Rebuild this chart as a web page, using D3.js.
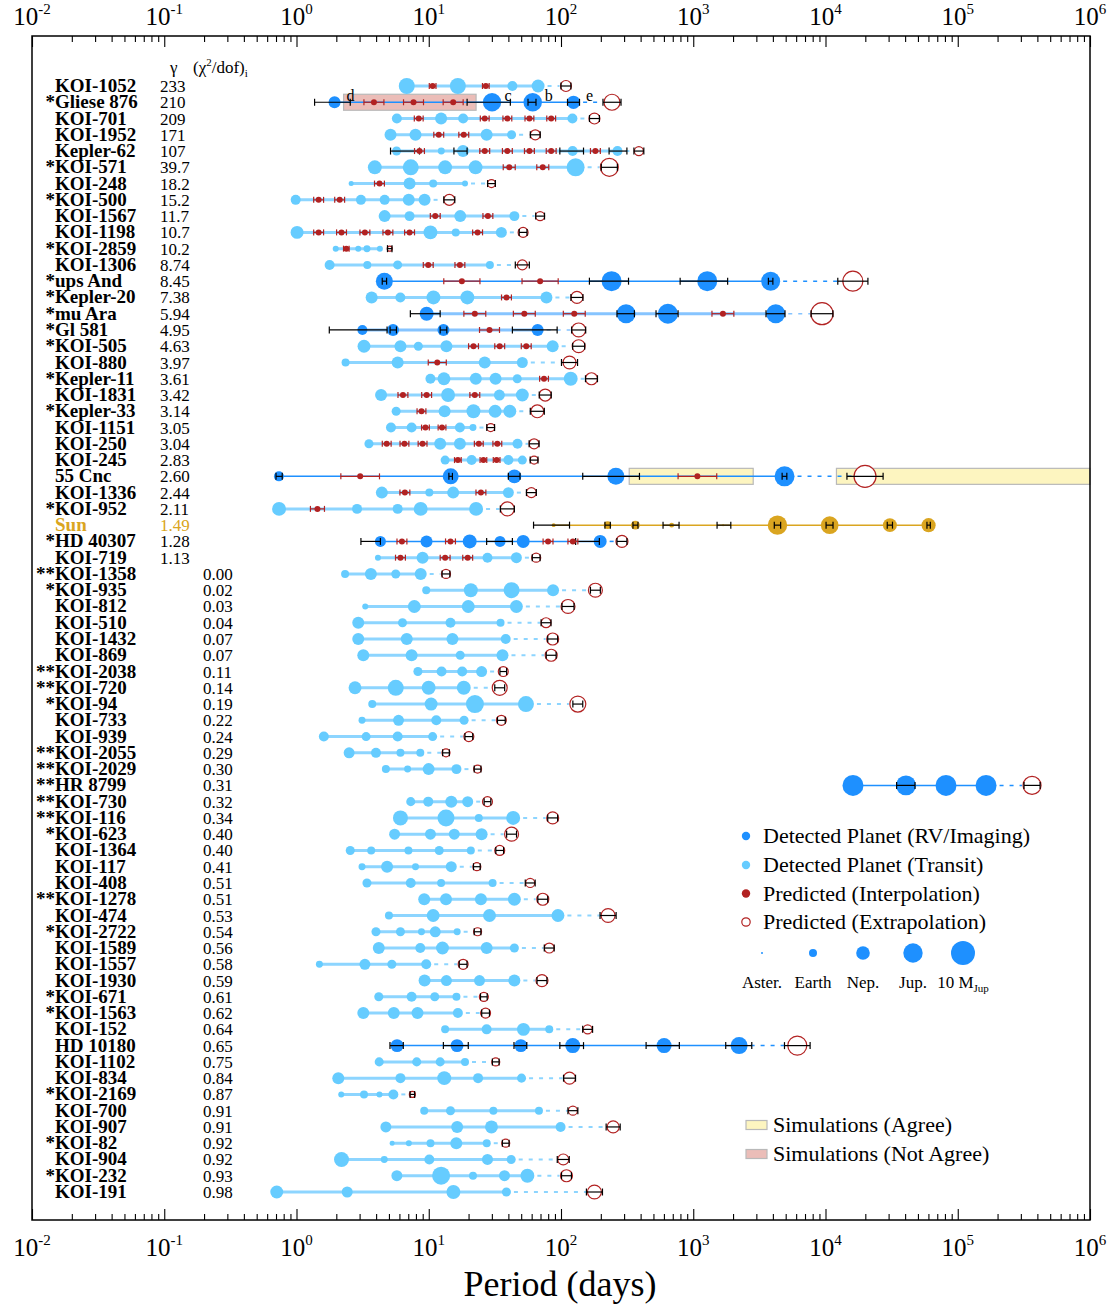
<!DOCTYPE html>
<html lang="en">
    <head>
        <meta charset="utf-8">
        <script src="https://d3js.org/d3.v7.min.js"></script>
        <title>Period predictions</title>
        <style>
            body { margin: 0; background: #fff; }
            svg text { font-family: "Liberation Serif", "Times New Roman", serif; }
        </style>
    </head>
    <body>
        <div id="plot-div"></div>
        <script>
            // one entry per system, top to bottom
            const systemNames = [
                'KOI-1052', '*Gliese 876', 'KOI-701', 'KOI-1952', 'Kepler-62', '*KOI-571', 'KOI-248', '*KOI-500',
                'KOI-1567', 'KOI-1198', '*KOI-2859', 'KOI-1306', '*ups And', '*Kepler-20', '*mu Ara', '*Gl 581',
                '*KOI-505', 'KOI-880', '*Kepler-11', 'KOI-1831', '*Kepler-33', 'KOI-1151', 'KOI-250', 'KOI-245',
                '55 Cnc', 'KOI-1336', '*KOI-952', 'Sun', '*HD 40307', 'KOI-719', '**KOI-1358', '*KOI-935',
                'KOI-812', 'KOI-510', 'KOI-1432', 'KOI-869', '**KOI-2038', '**KOI-720', '*KOI-94', 'KOI-733',
                'KOI-939', '**KOI-2055', '**KOI-2029', '**HR 8799', '**KOI-730', '**KOI-116', '*KOI-623', 'KOI-1364',
                'KOI-117', 'KOI-408', '**KOI-1278', 'KOI-474', '*KOI-2722', 'KOI-1589', 'KOI-1557', 'KOI-1930',
                '*KOI-671', '*KOI-1563', 'KOI-152', 'HD 10180', 'KOI-1102', 'KOI-834', '*KOI-2169', 'KOI-700',
                'KOI-907', '*KOI-82', 'KOI-904', '*KOI-232', 'KOI-191'
            ]

            const gammaLabels = [
                '233', '210', '209', '171', '107', '39.7', '18.2', '15.2', '11.7', '10.7', '10.2', '8.74', '8.45',
                '7.38', '5.94', '4.95', '4.63', '3.97', '3.61', '3.42', '3.14', '3.05', '3.04', '2.83', '2.60',
                '2.44', '2.11', '1.49', '1.28', '1.13', '0.00', '0.02', '0.03', '0.04', '0.07', '0.07', '0.11',
                '0.14', '0.19', '0.22', '0.24', '0.29', '0.30', '0.31', '0.32', '0.34', '0.40', '0.40', '0.41',
                '0.51', '0.51', '0.53', '0.54', '0.56', '0.58', '0.59', '0.61', '0.62', '0.64', '0.65', '0.75',
                '0.84', '0.87', '0.91', '0.91', '0.92', '0.92', '0.93', '0.98'
            ]

            // detection method of each system
            const rvSystems = ['*Gliese 876', '*ups And', '*mu Ara', '*Gl 581', '55 Cnc', '*HD 40307', '**HR 8799', 'HD 10180']
            const wideLineSystems = ['*mu Ara', '*Gl 581']

            // detected planets: period (days) and mass (Earth masses)
            const planetPeriods = [
                [6.82, 16.6, 42.9, 67.1],
                [1.94, 30.1, 61.1, 124.3],
                [5.74, 12.4, 18.2, 122],
                [5.14, 7.94, 27.4, 42.3],
                [5.71, 12.44, 18.16, 122.4, 267.3],
                [3.91, 7.31, 13.3, 22.6, 129],
                [2.59, 7.16, 10.8, 18.8],
                [0.986, 3.07, 4.64, 7.06, 9.30],
                [4.64, 7.16, 17.3, 44.4],
                [1.01, 10.3, 16.0, 35.4],
                [1.98, 2.93, 3.41, 4.27],
                [1.78, 3.43, 5.82, 29.0],
                [4.617, 241.3, 1276, 3849],
                [3.70, 6.10, 10.85, 19.58, 77.6],
                [9.64, 310.6, 643, 4206],
                [3.15, 5.37, 12.92, 66.6],
                [3.24, 6.11, 8.34, 13.6, 86.5],
                [2.35, 5.82, 26.5, 51.0],
                [10.30, 13.03, 22.69, 32.0, 46.69, 118.4],
                [4.36, 14.0, 34.2, 51.0],
                [5.67, 13.18, 21.78, 31.78, 41.03],
                [5.18, 7.42, 17.2, 21.6],
                [3.53, 12.2, 17.2, 46.9],
                [13.3, 21.1, 40.0, 51.0],
                [0.7365, 14.65, 44.4, 260, 4900],
                [4.42, 10.1, 15.3, 40.0],
                [0.738, 2.87, 5.82, 8.69, 22.8],
                [88, 225, 365, 687, 1680, 4333, 10759, 30687, 60190],
                [4.31, 9.62, 20.4, 34.6, 51.8, 197.8],
                [4.13, 8.98, 27.8, 46.0],
                [2.33, 3.65, 5.63, 8.69],
                [9.57, 20.8, 42.3, 87.1],
                [3.31, 7.78, 19.9, 46.0],
                [2.93, 6.33, 14.6, 34.9],
                [2.93, 6.82, 15.1, 38.2],
                [3.20, 7.42, 17.3, 36.1],
                [8.28, 12.5, 17.9, 25.1],
                [2.77, 5.63, 9.98, 18.4],
                [3.74, 10.42, 22.34, 54.32],
                [3.13, 5.91, 11.4, 18.5],
                [1.61, 3.36, 5.82, 10.7],
                [2.50, 3.99, 6.11, 8.63],
                [4.74, 6.92, 9.98, 16.2],
                [16140, 40600, 81500, 163700],
                [7.31, 9.91, 14.8, 19.7],
                [6.11, 13.5, 23.9, 43.5],
                [5.52, 10.3, 15.6, 25.1],
                [2.55, 3.67, 7.02, 12.0, 20.8],
                [3.13, 4.84, 7.94, 14.8],
                [3.41, 7.31, 12.4, 30.4],
                [9.24, 13.5, 24.8, 44.4],
                [5.00, 10.8, 28.8, 94.8],
                [3.99, 6.11, 8.81, 11.2, 16.4],
                [4.19, 8.63, 12.7, 27.4, 44.4],
                [1.49, 3.29, 5.26, 9.57],
                [9.30, 13.6, 24.2, 44.4],
                [4.19, 7.42, 11.1, 16.2],
                [3.20, 5.44, 8.22, 16.6],
                [13.3, 27.4, 52.0, 81.5],
                [5.76, 16.36, 49.7, 122.7, 602, 2222],
                [4.22, 8.11, 12.2, 18.8],
                [2.07, 6.11, 13.1, 23.6, 50.3],
                [2.18, 3.24, 4.24, 5.40],
                [9.24, 14.6, 30.8, 68.1],
                [4.74, 16.4, 29.8, 99.3],
                [5.29, 7.07, 10.31, 16.15, 27.45],
                [2.19, 4.61, 10.1, 27.8, 42.0],
                [5.74, 12.4, 21.6, 37.4, 55.7],
                [0.709, 2.418, 15.36, 38.65]
            ]

            const planetMasses = [
                [56, 56, 2.7, 12],
                [7.5, 180, 200, 14],
                [2.7, 7.5, 2.7, 2.7],
                [7.5, 7.5, 7.5, 1.7],
                [1.7, 0.6, 7.5, 2.7, 2.7],
                [20, 56, 20, 20, 154],
                [0.22, 7.5, 1, 0.37],
                [2.7, 2.7, 2.7, 7.5, 7.5],
                [7.5, 2.7, 7.5, 2.7],
                [12, 20, 1, 4.5],
                [0.37, 0.37, 0.6, 0.37],
                [2.7, 1, 1.7, 1],
                [93, 420, 420, 255],
                [7.5, 2.7, 20, 20, 7.5],
                [20, 255, 420, 255],
                [2.7, 7.5, 7.5, 7.5],
                [12, 7.5, 1.7, 7.5, 7.5],
                [1, 7.5, 7.5, 4.5],
                [2.7, 12, 7.5, 7.5, 1.7, 20],
                [7.5, 20, 4.5, 12],
                [1.7, 7.5, 20, 12, 12],
                [2.7, 2.7, 2.7, 0.6],
                [1.7, 7.5, 7.5, 2.7],
                [1.7, 2.7, 2.7, 1.7],
                [2.7, 56, 20, 93, 420],
                [7.5, 1, 7.5, 4.5],
                [20, 2.7, 2.7, 20, 20],
                [0.13, 0.815, 1.6, 0.2, 0.0002, 318, 130, 20, 22],
                [4.5, 7.5, 20, 4.5, 12, 12],
                [0.37, 7.5, 2.7, 4.5],
                [1, 7.5, 1.7, 7.5],
                [1, 20, 56, 7.5],
                [0.37, 12, 12, 12],
                [7.5, 1.7, 2.7, 1],
                [7.5, 7.5, 7.5, 2.7],
                [7.5, 7.5, 1.7, 7.5],
                [1.7, 2.7, 2.7, 4.5],
                [12, 56, 20, 20],
                [1, 12, 154, 56],
                [0.6, 4.5, 2.7, 1.7],
                [2.7, 1.7, 2.7, 1.7],
                [4.5, 2.7, 1, 1],
                [1, 0.6, 7.5, 2.7],
                [700, 420, 700, 700],
                [1.7, 2.7, 7.5, 4.5],
                [34, 93, 1, 20],
                [4.5, 4.5, 4.5, 7.5],
                [1.7, 1, 1, 1.7, 1],
                [0.6, 7.5, 0.6, 4.5],
                [1.7, 2.7, 1, 1],
                [7.5, 7.5, 7.5, 12],
                [1, 12, 12, 12],
                [1.7, 1.7, 0.6, 4.5, 0.6],
                [7.5, 2.7, 12, 7.5, 1.7],
                [0.6, 4.5, 1.7, 2.7],
                [7.5, 4.5, 4.5, 7.5],
                [1.7, 2.7, 1.7, 1],
                [7.5, 7.5, 7.5, 2.7],
                [1, 2.7, 12, 1],
                [12, 12, 12, 34, 34, 93],
                [1.7, 1.7, 1.7, 1],
                [7.5, 2.7, 20, 2.7, 1.7],
                [0.37, 1, 0.37, 2.7],
                [1, 1.7, 1, 1],
                [4.5, 7.5, 12, 2.7],
                [0.22, 0.37, 1, 7.5, 1],
                [34, 0.6, 2.7, 4.5, 1.7],
                [4.5, 154, 1, 4.5, 20],
                [12, 4.5, 20, 1.7]
            ]

            // predicted periods between detected planets (only the first 30 systems have them)
            const interpPeriods = [
                [10.7, 27.0],
                [3.85, 7.67, 15.3],
                [8.40, 26.5, 39.3, 57.7, 84.3],
                [11.9, 18.4],
                [8.51, 26.5, 39.3, 57.7, 84.3, 182],
                [40.6, 72.8],
                [4.24],
                [1.47, 2.12],
                [11.2, 28.0],
                [1.47, 2.19, 3.29, 4.91, 7.16, 23.4],
                [2.38],
                [9.91, 17.2],
                [17.8, 69.5],
                [38.7],
                [22.3, 52.8, 126, 1676],
                [28.8],
                [21.8, 34.4, 54.6],
                [11.6],
                [74.4],
                [6.38, 9.64, 22.3],
                [8.81],
                [9.44, 12.6],
                [4.81, 6.55, 8.98, 23.9, 33.0],
                [16.6, 25.9, 32.6],
                [3.03, 1075],
                [6.60, 24.8],
                [1.44],
                [],
                [6.27, 14.6, 79.8, 123],
                [6.11, 13.3, 19.7]
            ]
            // relative half-width of the interpolation error bars
            const interpErr = [
                0.06, 0.19, 0.08, 0.09, 0.09, 0.11, 0.09, 0.09, 0.09, 0.09, 0.05, 0.09, 0.37, 0.09, 0.21,
                0.19, 0.09, 0.17, 0.08, 0.09, 0.08, 0.07, 0.08, 0.06, 0.40, 0.09, 0.13, 0, 0.09, 0.09
            ]

            // next predicted planet beyond the outermost one
            const extrapPeriods = [
                109, 243, 179, 63.9, 388, 232, 29.8, 14.3, 69.5, 51.7, 5.07, 51.0, 16100, 132, 9410, 136, 136,
                116, 170, 76.0, 66.2, 29.4, 62.6, 62.6, 19900, 59.7, 39.3, null, 289, 64.9,
                13.5, 182, 113, 77.1, 86.5, 84.3, 36.6, 34.4, 134, 35.4, 20.1, 13.5, 23.4, 364600, 27.8, 86.5,
                42.3, 34.4, 23.1, 58.5, 72.8, 227, 23.4, 81.5, 18.2, 71.8, 26.1, 26.9, 159, 6120, 32.1, 116,
                7.52, 123, 248, 38.2, 104, 110, 179
            ]
            const extrapMasses = [
                4.5, 56, 4.5, 2.7, 1.7, 154, 1, 4.5, 1.7, 2.7, 0.22, 2.7, 420, 7.5, 1150, 20, 12, 12, 7.5, 7.5,
                12, 1, 2.7, 1, 1150, 2.7, 20, null, 7.5, 1.7,
                1.7, 20, 20, 2.7, 7.5, 7.5, 2.7, 34, 56, 2.7, 2.7, 1, 1, 154, 2.7, 7.5, 20, 2.7, 1, 1.7, 7.5,
                20, 1, 2.7, 2.7, 7.5, 1.7, 2.7, 1.7, 255, 1, 7.5, 0.37, 1.7, 7.5, 1, 4.5, 7.5, 20
            ]
            const extrapErr = [
                0.09, 0.17, 0.09, 0.09, 0.09, 0.15, 0.07, 0.10, 0.08, 0.07, 0.04, 0.13, 0.30, 0.11, 0.21,
                0.13, 0.11, 0.15, 0.11, 0.11, 0.13, 0.07, 0.09, 0.07, 0.37, 0.09, 0.13, 0, 0.09, 0.07,
                0.07, 0.09, 0.11, 0.09, 0.09, 0.09, 0.06, 0.09, 0.09, 0.07, 0.07, 0.06, 0.06, 0.15, 0.06,
                0.09, 0.09, 0.07, 0.06, 0.09, 0.09, 0.15, 0.06, 0.09, 0.07, 0.09, 0.06, 0.07, 0.09, 0.25,
                0.06, 0.11, 0.04, 0.09, 0.13, 0.06, 0.11, 0.09, 0.15
            ]

            // black error bars on detected planets [low, high] in days
            const detectedBars = {
                '*Gliese 876': [[1.37, 2.55], [19.5, 41.4], [56.3, 64.7], [112, 138]],
                'Kepler-62': [[5.14, 8.51], [15.5, 19.5], [98, 148], [231, 315]],
                '*ups And': [[4.45, 4.8], [164, 324], [796, 1820], [3700, 4000]],
                '*mu Ara': [[7.26, 12.2], [265, 359], [523, 768], [3550, 4940]],
                '*Gl 581': [[1.77, 4.84], [5.1, 5.7], [12.2, 13.7], [42.9, 93.5]],
                '55 Cnc': [[0.70, 0.78], [14.2, 15.1], [40, 49], [146, 392], [4700, 5100]],
                'Sun': [[62, 116], [215, 236], [350, 382], [591, 781], [1514, 1923], [4100, 4580], [10100, 11400], [29300, 32100], [58500, 62000]],
                '*HD 40307': [[3.07, 4.31], [27.4, 42.9], [129, 195]],
                '**HR 8799': [[34500, 47500]],
                'HD 10180': [[5.09, 6.42], [12.9, 19.9], [44.1, 55.1], [98, 148], [440, 785], [1760, 2770]]
            }

            // simulation ranges [system, low, high]
            const simAgree = [['55 Cnc', 328, 2840], ['55 Cnc', 12100, 1e6]]
            const simNotAgree = [['*Gliese 876', 2.27, 22.8]]
            const gliese876Letters = ['d', 'c', 'b', 'e']

            const decadeTicks = [1e-2, 1e-1, 1e0, 1e1, 1e2, 1e3, 1e4, 1e5, 1e6]
            const decadeExponents = ['-2', '-1', '0', '1', '2', '3', '4', '5', '6']

            const legendLabels = ['Detected Planet (RV/Imaging)', 'Detected Planet (Transit)', 'Predicted (Interpolation)', 'Predicted (Extrapolation)']
            const sizeLabels = ['Aster.', 'Earth', 'Nep.', 'Jup.', '10 M']
            const sizeMasses = [0.0002, 1, 17.1, 318, 3180]
            const simLabels = ['Simulations (Agree)', 'Simulations (Not Agree)']

            const width = 1119
            const height = 1309
            const plot = { left: 32, right: 1090, top: 36, bottom: 1220 }

            const colors = {
                rv: '#1e90ff',
                tr: '#66ccff',
                trLine: '#8dd5ff',
                wideLine: '#86c4ff',
                sun: '#daa520',
                red: '#b22222',
                agree: '#fdf5c0',
                notAgree: '#ebbdb8'
            }

            const xScale = d3.scaleLog().domain([1e-2, 1e6]).range([plot.left, plot.right])
            const yScale = d3.scalePoint().domain(systemNames).range([86, 1192])
            const massScale = d3.scaleLog().domain([1, 3180]).range([4, 12])
            const radius = m => Math.max(1, massScale(m))

            const svg = d3.select('#plot-div')
                .append('svg')
                .attr('width', width)
                .attr('height', height)

            const boxLayer = svg.append('g')
            const lineLayer = svg.append('g')
            const planetLayer = svg.append('g')
            const barLayer = svg.append('g')
            const textLayer = svg.append('g')

            let errorBar = (g, lo, hi, cy, color, cap) => {
                g.append('line')
                    .attr('x1', xScale(lo)).attr('x2', xScale(hi))
                    .attr('y1', cy).attr('y2', cy)
                    .attr('stroke', color).attr('stroke-width', 1.2)
                ;[lo, hi].forEach(v => {
                    g.append('line')
                        .attr('x1', xScale(v)).attr('x2', xScale(v))
                        .attr('y1', cy - cap).attr('y2', cy + cap)
                        .attr('stroke', color).attr('stroke-width', 1.2)
                })
            }

            // simulation boxes
            let drawBoxes = (list, fill) => {
                list.forEach(([name, lo, hi]) => {
                    boxLayer.append('rect')
                        .attr('x', xScale(lo))
                        .attr('y', yScale(name) - 8)
                        .attr('width', xScale(hi) - xScale(lo))
                        .attr('height', 16)
                        .attr('fill', fill)
                        .attr('stroke', '#b9b9b9')
                        .attr('stroke-width', 1.2)
                })
            }
            drawBoxes(simAgree, colors.agree)
            drawBoxes(simNotAgree, colors.notAgree)

            systemNames.forEach((name, i) => {
                const cy = yScale(name)
                const isSun = name === 'Sun'
                const isRv = rvSystems.includes(name)
                const fill = isSun ? colors.sun : (isRv ? colors.rv : colors.tr)
                let lineColor = isSun ? colors.sun : (isRv ? colors.rv : colors.trLine)
                let lineWidth = isRv || isSun ? 1.5 : 3
                if (wideLineSystems.includes(name)) {
                    lineColor = colors.wideLine
                    lineWidth = 3
                }
                const periods = planetPeriods[i]
                const masses = planetMasses[i]
                const first = periods[0]
                const last = periods[periods.length - 1]

                // solid line through detected planets
                lineLayer.append('line')
                    .attr('x1', xScale(first)).attr('x2', xScale(last))
                    .attr('y1', cy).attr('y2', cy)
                    .attr('stroke', lineColor)
                    .attr('stroke-width', lineWidth)

                // dashed line to the extrapolated planet
                if (extrapPeriods[i]) {
                    const x1 = xScale(last) + radius(masses[masses.length - 1]) + 3
                    const x2 = xScale(extrapPeriods[i]) - radius(extrapMasses[i]) - 1
                    lineLayer.append('line')
                        .attr('x1', x1).attr('x2', x2)
                        .attr('y1', cy).attr('y2', cy)
                        .attr('stroke', lineColor)
                        .attr('stroke-width', isRv ? 1.5 : 2)
                        .attr('stroke-dasharray', '4,6')
                }

                // detected planets
                periods.forEach((p, j) => {
                    planetLayer.append('circle')
                        .attr('cx', xScale(p))
                        .attr('cy', cy)
                        .attr('r', radius(masses[j]))
                        .attr('fill', fill)
                })

                // black bars on detected planets
                ;(detectedBars[name] || []).forEach(([lo, hi]) => errorBar(barLayer, lo, hi, cy, '#000', 3.5))

                // interpolated predictions
                ;(interpPeriods[i] || []).forEach(p => {
                    const e = interpErr[i]
                    errorBar(barLayer, p / (1 + e), p * (1 + e), cy, colors.red, 3)
                    barLayer.append('circle')
                        .attr('cx', xScale(p))
                        .attr('cy', cy)
                        .attr('r', 3)
                        .attr('fill', colors.red)
                })

                // extrapolated prediction
                if (extrapPeriods[i]) {
                    const p = extrapPeriods[i]
                    const e = extrapErr[i]
                    barLayer.append('circle')
                        .attr('cx', xScale(p))
                        .attr('cy', cy)
                        .attr('r', radius(extrapMasses[i]))
                        .attr('fill', '#fff')
                        .attr('stroke', colors.red)
                        .attr('stroke-width', 1.2)
                    errorBar(barLayer, p / (1 + e), p * (1 + e), cy, '#000', 3.5)
                }

                // name and gamma
                const match = name.match(/^(\**)(.*)$/)
                const textColor = isSun ? colors.sun : '#000'
                textLayer.append('text')
                    .attr('x', 55).attr('y', cy + 6)
                    .attr('text-anchor', 'end')
                    .attr('font-size', 19).attr('font-weight', 'bold')
                    .attr('fill', textColor)
                    .text(match[1])
                textLayer.append('text')
                    .attr('x', 55).attr('y', cy + 6)
                    .attr('font-size', 19).attr('font-weight', 'bold')
                    .attr('fill', textColor)
                    .text(match[2])
                textLayer.append('text')
                    .attr('x', parseFloat(gammaLabels[i]) >= 1 ? 160 : 203)
                    .attr('y', cy + 6)
                    .attr('font-size', 17)
                    .attr('fill', textColor)
                    .text(gammaLabels[i])
            })

            // planet letters for Gliese 876
            planetPeriods[systemNames.indexOf('*Gliese 876')].forEach((p, j) => {
                textLayer.append('text')
                    .attr('x', xScale(p) + 16)
                    .attr('y', yScale('*Gliese 876') - 1)
                    .attr('text-anchor', 'middle')
                    .attr('font-size', 16)
                    .text(gliese876Letters[j])
            })

            // column header
            const header = textLayer.append('text').attr('y', 73).attr('font-size', 17)
            header.append('tspan').attr('x', 170).text('γ')
            header.append('tspan').attr('x', 193).text('(χ')
            header.append('tspan').attr('dy', -7).attr('font-size', 11).text('2')
            header.append('tspan').attr('dy', 7).text('/dof)')
            header.append('tspan').attr('dy', 4).attr('font-size', 11).text('i')

            // frame
            svg.append('rect')
                .attr('x', plot.left).attr('y', plot.top)
                .attr('width', plot.right - plot.left)
                .attr('height', plot.bottom - plot.top)
                .attr('fill', 'none')
                .attr('stroke', '#000')
                .attr('stroke-width', 1.5)

            // ticks, top and bottom, pointing inward
            const minorTicks = xScale.ticks().filter(v => !decadeTicks.includes(v))
            let addTicks = (axis, y, values, size) => {
                svg.append('g')
                    .attr('transform', `translate(0,${y})`)
                    .call(axis(xScale).tickValues(values).tickSize(size).tickFormat(''))
                    .call(g => g.select('.domain').remove())
                    .call(g => g.selectAll('.tick line').attr('stroke-width', 1.1))
            }
            addTicks(d3.axisBottom, plot.top, decadeTicks, 11)
            addTicks(d3.axisBottom, plot.top, minorTicks, 6)
            addTicks(d3.axisTop, plot.bottom, decadeTicks, 11)
            addTicks(d3.axisTop, plot.bottom, minorTicks, 6)

            ;[25, 1256].forEach(base => {
                decadeTicks.forEach((v, k) => {
                    const t = svg.append('text')
                        .attr('x', xScale(v))
                        .attr('y', base)
                        .attr('text-anchor', 'middle')
                        .attr('font-size', 25)
                    t.append('tspan').text('10')
                    t.append('tspan').attr('dy', -11).attr('font-size', 15).text(decadeExponents[k])
                })
            })

            svg.append('text')
                .attr('x', 560).attr('y', 1296)
                .attr('text-anchor', 'middle')
                .attr('font-size', 36)
                .text('Period (days)')

            // legend
            const legendY = [836, 865, 893.5, 922]
            const legendFill = [colors.rv, colors.tr, colors.red, '#fff']
            legendLabels.forEach((label, k) => {
                svg.append('circle')
                    .attr('cx', 746).attr('cy', legendY[k])
                    .attr('r', 4.2)
                    .attr('fill', legendFill[k])
                    .attr('stroke', k === 3 ? colors.red : 'none')
                    .attr('stroke-width', 1.2)
                svg.append('text')
                    .attr('x', 763).attr('y', legendY[k] + 7)
                    .attr('font-size', 22)
                    .text(label)
            })

            const sizeX = [762, 813, 863, 913, 963]
            sizeLabels.forEach((label, k) => {
                svg.append('circle')
                    .attr('cx', sizeX[k]).attr('cy', 953)
                    .attr('r', radius(sizeMasses[k]))
                    .attr('fill', colors.rv)
                const t = svg.append('text')
                    .attr('x', sizeX[k]).attr('y', 988)
                    .attr('text-anchor', 'middle')
                    .attr('font-size', 17)
                t.append('tspan').text(label)
                if (k === sizeLabels.length - 1) {
                    t.append('tspan').attr('dy', 4).attr('font-size', 11).text('Jup')
                }
            })

            const simY = [1125, 1154]
            const simFill = [colors.agree, colors.notAgree]
            simLabels.forEach((label, k) => {
                svg.append('rect')
                    .attr('x', 746).attr('y', simY[k] - 4.5)
                    .attr('width', 21).attr('height', 9)
                    .attr('fill', simFill[k])
                    .attr('stroke', '#b9b9b9')
                    .attr('stroke-width', 1.2)
                svg.append('text')
                    .attr('x', 773).attr('y', simY[k] + 7)
                    .attr('font-size', 22)
                    .text(label)
            })
        </script>
    </body>
</html>
